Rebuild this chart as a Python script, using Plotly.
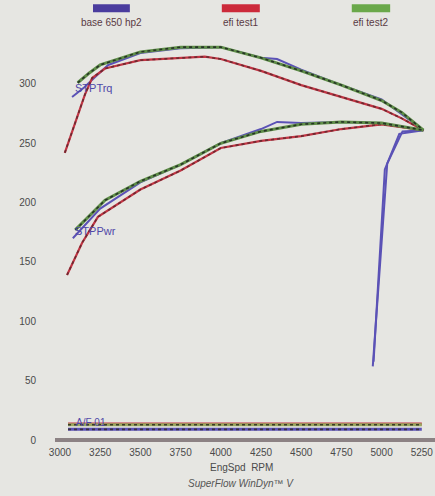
import plotly.graph_objects as go

# ---- data ----
base_trq_rpm = [3075, 3150, 3220, 3300, 3500, 3750, 4000, 4250, 4350, 4500, 4750, 5000, 5260, 5130, 5035, 4945]
base_trq_val = [289, 297, 306, 316, 326, 330, 331, 322, 321, 312, 299, 287, 261, 260, 233, 62]
efi1_trq_rpm = [3030, 3090, 3155, 3200, 3280, 3500, 3750, 3900, 4000, 4250, 4500, 4750, 5000, 5125, 5260]
efi1_trq_val = [242, 265, 291, 305, 313, 320, 322, 323, 321, 311, 299, 289, 279, 271, 261]
efi2_trq_rpm = [3110, 3180, 3250, 3500, 3750, 4000, 4250, 4500, 4750, 5000, 5125, 5260]
efi2_trq_val = [301, 309, 316, 327, 331, 331, 322, 311, 299, 286, 276, 261]

base_pwr_rpm = [3080, 3150, 3250, 3500, 3750, 4000, 4250, 4350, 4500, 4750, 5000, 5260, 5110, 5020, 4950]
base_pwr_val = [170, 180, 195, 217, 232, 250, 262, 268, 267, 268, 267, 261, 258, 228, 66]
efi1_pwr_rpm = [3044, 3137, 3236, 3500, 3750, 4000, 4250, 4500, 4750, 5000, 5260]
efi1_pwr_val = [139, 166, 188, 211, 227, 246, 252, 256, 262, 266, 261]
efi2_pwr_rpm = [3095, 3280, 3500, 3750, 4000, 4250, 4500, 4750, 5000, 5260]
efi2_pwr_val = [177, 202, 218, 232, 250, 260, 266, 268, 267, 261]

af_rpm = [3050, 3500, 4000, 4500, 5000, 5250]
base_af = [9.0, 9.0, 9.0, 9.0, 9.0, 9.0]
efi1_af = [13.4, 13.4, 13.4, 13.4, 13.4, 13.4]
efi2_af = [12.8, 12.8, 12.8, 12.8, 12.8, 12.8]

x_ticks = [3000, 3250, 3500, 3750, 4000, 4250, 4500, 4750, 5000, 5250]
y_ticks = [0, 50, 100, 150, 200, 250, 300]

series_names = ["base 650 hp2", "efi test1", "efi test2"]
BLUE, RED, GREEN = "#5b52b6", "#c23544", "#5f8e48"
LEG_COLORS = ["#4a3c9e", "#cc2a3a", "#6aa84a"]
FONT = "Liberation Sans, Arial, sans-serif"

fig = go.Figure()

def add(x, y, color, width=2.2, beads=False, dot_color="#263326"):
    fig.add_trace(go.Scatter(x=x, y=y, mode="lines", line=dict(color=color, width=width),
                             showlegend=False, hoverinfo="skip"))
    if beads:
        fig.add_trace(go.Scatter(x=x, y=y, mode="lines", line=dict(color=dot_color, width=1.6, dash="dot"),
                                 showlegend=False, hoverinfo="skip"))

# A/F lines
add(af_rpm, efi1_af, RED, 3)
add(af_rpm, base_af, BLUE, 3, beads=True, dot_color="#3a3040")
add(af_rpm, efi2_af, "#9aa860", 3, beads=True, dot_color="#3a3a2a")

# base
add(base_trq_rpm, base_trq_val, BLUE, 2)
add(base_pwr_rpm, base_pwr_val, BLUE, 2)
# efi test1
add(efi1_trq_rpm, efi1_trq_val, RED, 2.2, beads=True, dot_color="#6a2a30")
add(efi1_pwr_rpm, efi1_pwr_val, RED, 2.2, beads=True, dot_color="#6a2a30")
# efi test2
add(efi2_trq_rpm, efi2_trq_val, GREEN, 3, beads=True)
add(efi2_pwr_rpm, efi2_pwr_val, GREEN, 3, beads=True)

# zero line
fig.add_shape(type="line", xref="paper", yref="y", x0=0, x1=1, y0=0, y1=0,
              line=dict(color="#8c8284", width=4))

# curve labels
lab_font = dict(family=FONT, size=11, color="#5048a8")
fig.add_annotation(x=3080, y=297, text="STPTrq", showarrow=False, xanchor="left", yanchor="middle", font=lab_font)
fig.add_annotation(x=3080, y=176, text="STPPwr", showarrow=False, xanchor="left", yanchor="middle", font=lab_font)
fig.add_annotation(x=3090, y=15, text="A/F 01", showarrow=False, xanchor="left", yanchor="middle",
                   font=dict(family=FONT, size=10, color="#5048a8"))

# legend (swatches above names)
sw_x = [(0.100, 0.197), (0.439, 0.539), (0.781, 0.882)]
for (x0, x1), name, col in zip(sw_x, series_names, LEG_COLORS):
    fig.add_shape(type="rect", xref="paper", yref="paper", x0=x0, x1=x1, y0=1.063, y1=1.083,
                  fillcolor=col, line=dict(width=0))
    fig.add_annotation(xref="paper", yref="paper", x=(x0 + x1) / 2, y=1.038, text=name, showarrow=False,
                       xanchor="center", yanchor="middle",
                       font=dict(family=FONT, size=10, color="#5a3a44"))

# axis title + footer
fig.add_annotation(xref="paper", yref="paper", x=0.49, y=-0.0565, text="EngSpd  RPM",
                   showarrow=False, yanchor="middle", font=dict(family=FONT, size=10, color="#4a4a4a"))
fig.add_annotation(xref="paper", yref="paper", x=0.49, y=-0.094, text="<i>SuperFlow WinDyn™ V</i>",
                   showarrow=False, yanchor="middle", font=dict(family=FONT, size=10, color="#555555"))

tick_font = dict(family=FONT, size=10, color="#4a4a4a")
fig.update_layout(
    width=435, height=496,
    margin=dict(l=55, r=0, t=38, b=51),
    paper_bgcolor="#e6e6e2", plot_bgcolor="#e6e6e2",
    showlegend=False,
    xaxis=dict(range=[2969, 5332], tickvals=x_ticks, ticktext=[str(v) for v in x_ticks],
               showgrid=False, zeroline=False, showline=False, ticks="", tickfont=tick_font),
    yaxis=dict(range=[-4.2, 338.7], tickvals=y_ticks, ticktext=[str(v) for v in y_ticks],
               showgrid=False, zeroline=False, showline=False, ticks="", tickfont=tick_font, ticklabelstandoff=18),
)

# remove the default 8px page margin so the figure fills the window exactly
fig.write_html("out.html", config={"displayModeBar": False},
               post_script="document.body.style.margin='0px';document.body.style.overflow='hidden';")
